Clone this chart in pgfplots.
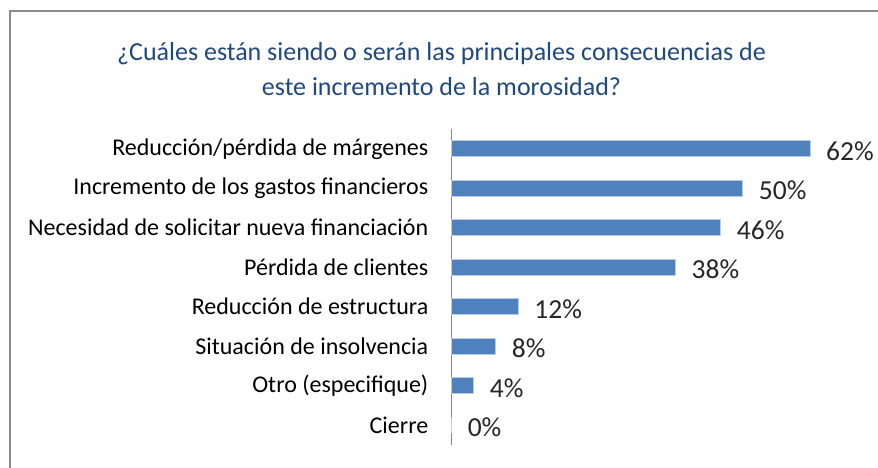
\documentclass[border=0pt]{standalone}
\usepackage{fontspec}
\setmainfont{Carlito}
\usepackage{pgfplots}
\usepackage{pgfplotstable}
\pgfplotsset{compat=1.18}
\definecolor{barblue}{HTML}{4F81BD}
\definecolor{baredge}{HTML}{B9CDE5}
\definecolor{titleblue}{HTML}{1F497D}
\definecolor{framegray}{HTML}{8C8C8C}
\definecolor{axisgray}{HTML}{868686}
\definecolor{valtext}{HTML}{262626}
\pgfplotstableread{
y val lab
0 61.8 62
1 50.2 50
2 46.4 46
3 38.6 38
4 11.5 12
5 7.6 8
6 3.8 4
7 0 0
}\datatable
\begin{document}
\begin{tikzpicture}[x=1pt,y=1pt]
\path[use as bounding box] (0,0) rectangle (878,468);
\draw[framegray, line width=2pt] (10,-2) -- (10,457) -- (880,457);
\node[text=titleblue, font=\fontsize{26}{35}\selectfont, align=center] at (441.5,398.5) {¿Cuáles están siendo o serán las principales consecuencias de\\este incremento de la morosidad?};
\begin{axis}[
  at={(451.5pt,23pt)}, anchor=south west,
  scale only axis, width=406pt, height=316pt,
  xmin=0, xmax=70, ymin=-0.5, ymax=7.5, y dir=reverse,
  xbar, bar width=16pt,
  hide x axis,
  axis y line*=left,
  y axis line style={axisgray, line width=1.5pt, -},
  ytick={0,...,7},
  yticklabels={Reducción/pérdida de márgenes, Incremento de los gastos financieros, Necesidad de solicitar nueva financiación, Pérdida de clientes, Reducción de estructura, Situación de insolvencia, Otro (especifique), Cierre},
  major tick length=0pt,
  yticklabel style={font=\fontsize{24}{28}\selectfont, text=black, anchor=east, inner sep=0pt, xshift=-23pt},
  point meta=explicit symbolic,
  nodes near coords={\pgfplotspointmeta\%},
  nodes near coords style={font=\fontsize{27.5}{32}\selectfont, text=valtext, anchor=west, inner sep=0pt, xshift=16pt, yshift=-2pt},
  clip=false,
]
\addplot[fill=barblue, draw=baredge, line width=0.6pt] table[x=val, y=y, meta=lab] {\datatable};
\end{axis}
\end{tikzpicture}
\end{document}
